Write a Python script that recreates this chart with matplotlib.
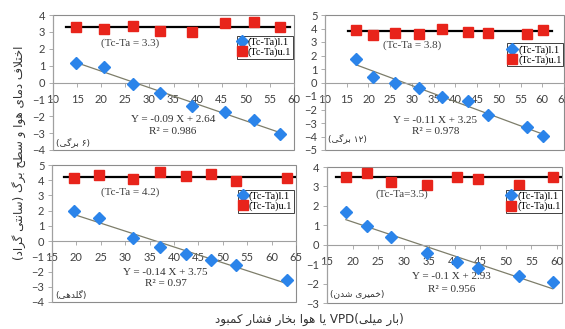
import re
import numpy as np
import matplotlib
matplotlib.use('Agg')
import matplotlib.pyplot as plt
from matplotlib.patches import Rectangle

# ---- data ----
# 6 leaves
vpd_6 = [14.8, 20.6, 26.5, 32.3, 38.8, 45.7, 51.6, 57.1]
low_6 = [1.14, 0.90, -0.11, -0.64, -1.37, -1.77, -2.20, -3.07]
up_6 = [3.30, 3.17, 3.36, 3.07, 3.00, 3.50, 3.56, 3.30]
# 12 leaves
vpd_12 = [17.2, 21.1, 26.1, 31.7, 36.9, 42.8, 47.5, 56.4, 60.2]
low_12 = [1.72, 0.43, -0.01, -0.38, -1.05, -1.37, -2.43, -3.32, -3.96]
up_12 = [3.89, 3.52, 3.69, 3.57, 3.96, 3.76, 3.69, 3.57, 3.89]
# flowering
vpd_fl = [19.5, 24.7, 31.5, 37.1, 42.4, 47.5, 52.7, 63.1]
low_fl = [1.97, 1.53, 0.18, -0.37, -0.86, -1.25, -1.54, -2.57]
up_fl = [4.12, 4.34, 4.08, 4.52, 4.28, 4.39, 3.97, 4.12]
# dough stage
vpd_do = [18.7, 22.9, 27.5, 34.6, 40.4, 44.6, 52.6, 59.2]
low_do = [1.70, 0.96, 0.40, -0.41, -0.87, -1.18, -1.61, -1.94]
up_do = [3.47, 3.71, 3.21, 3.07, 3.47, 3.38, 3.07, 3.47]

tc_ta = [3.3, 3.8, 4.2, 3.5]
tc_ta_text = ['(Tc-Ta = 3.3)', '(Tc-Ta = 3.8)', '(Tc-Ta = 4.2)', '(Tc-Ta=3.5)']
eq_text = ['Y = -0.09 X + 2.64', 'Y = -0.11 X + 3.25', 'Y = -0.14 X + 3.75', 'Y = -0.1 X + 2.93']
r2_text = ['R² = 0.986', 'R² = 0.978', 'R² = 0.97', 'R² = 0.956']
stage_text = ['(۶ برگی)', '(۱۲ برگی)', '(گلدهی)', '(خمیری شدن)']
ylabel = 'اختلاف دمای هوا و سطح برگ (سانتی گراد)'
xlabel = 'کمبود فشار بخار هوا یا VPD(میلی بار)'

# ---- simple persian shaping (matplotlib has no arabic shaping / bidi) ----
FORMS = {
    'ا': '\uFE8D\uFE8E', 'د': '\uFEA9\uFEAA', 'ر': '\uFEAD\uFEAE', 'و': '\uFEED\uFEEE',
    '\uFEFB': '\uFEFB\uFEFC',
    'ب': '\uFE8F\uFE90\uFE91\uFE92', 'ت': '\uFE95\uFE96\uFE97\uFE98',
    'ح': '\uFEA1\uFEA2\uFEA3\uFEA4', 'خ': '\uFEA5\uFEA6\uFEA7\uFEA8',
    'س': '\uFEB1\uFEB2\uFEB3\uFEB4', 'ش': '\uFEB5\uFEB6\uFEB7\uFEB8',
    'ط': '\uFEC1\uFEC2\uFEC3\uFEC4', 'ف': '\uFED1\uFED2\uFED3\uFED4',
    'ل': '\uFEDD\uFEDE\uFEDF\uFEE0', 'م': '\uFEE1\uFEE2\uFEE3\uFEE4',
    'ن': '\uFEE5\uFEE6\uFEE7\uFEE8', 'ه': '\uFEE9\uFEEA\uFEEB\uFEEC',
    'ک': '\uFB8E\uFB8F\uFB90\uFB91', 'گ': '\uFB92\uFB93\uFB94\uFB95',
    'ی': '\uFBFC\uFBFD\uFBFE\uFBFF',
}


def shape(s):
    s = s.replace('لا', '\uFEFB')
    out = []
    for i, c in enumerate(s):
        if c not in FORMS:
            out.append(c)
            continue
        f = FORMS[c]
        prev = s[i - 1] if i > 0 else ''
        nxt = s[i + 1] if i + 1 < len(s) else ''
        jp = prev in FORMS and len(FORMS[prev]) == 4
        jn = len(f) == 4 and nxt in FORMS
        out.append(f[jp + 2 * jn] if len(f) == 4 else f[jp])
    return ''.join(out)


def rtl(s):
    t = shape(s)[::-1].translate(str.maketrans('()', ')('))
    return re.sub(r'[0-9A-Za-z۰-۹.]+', lambda m: m.group()[::-1], t)


def words_ltr(s):
    # the x caption in the source keeps its words left to right
    return re.sub(r'[\u0600-\u06FF\uFB50-\uFEFF]+', lambda m: m.group()[::-1], shape(s))


# ---- figure ----
W, H = 565, 329
fig = plt.figure(figsize=(W / 100, H / 100), dpi=100)

# panel boxes in pixels: left, right, top, bottom
boxes = [(53, 294, 15, 150), (325, 564, 15, 150), (52, 296, 165, 302), (327, 562, 167, 303)]
xlims = [(10, 60), (10, 65), (15, 65), (15, 61)]
xtick_rng = [(10, 60), (10, 65), (15, 65), (15, 60)]
ylims = [(-4, 4), (-5, 5), (-4, 5), (-3, 4)]
tc_pos = [(26.0, 2.34), (30.1, 2.78), (31.0, 3.24), (29.6, 2.59)]
eq_pos = [(34.9, -2.22), (35.4, -2.78), (38.3, -2.06), (39.4, -1.65)]
r2_dy = [0.71, 0.86, 0.72, 0.63]
stage_y = [0.06, 0.09, 0.05, 0.07]
leg_anchor = [(0.995, 0.845), (0.996, 0.79), (0.99, 0.818), (1.0, 0.83)]

panels = [(vpd_6, low_6, up_6), (vpd_12, low_12, up_12),
          (vpd_fl, low_fl, up_fl), (vpd_do, low_do, up_do)]

blue = '#2b84ea'
red = '#e8241b'
serif = 'Liberation Serif'

for k, (xs, lo, up) in enumerate(panels):
    l, r, t, b = boxes[k]
    ax = fig.add_axes([l / W, 1 - b / H, (r - l) / W, (b - t) / H])
    xs = np.array(xs)
    lo = np.array(lo)

    # mean line of the upper limit
    ax.plot([max(xs.min() - 2, xlims[k][0]), min(xs.max() + 2, xlims[k][1])],
            [tc_ta[k], tc_ta[k]], color='black', lw=1.6, zorder=2)
    # linear trend of lower limit
    p = np.polyfit(xs, lo, 1)
    ax.plot([xs.min(), xs.max()], np.polyval(p, [xs.min(), xs.max()]),
            color='#7d7d6a', lw=0.9, zorder=2)

    ax.plot(xs, lo, 'D', color=blue, ms=6.3, mec=blue, label='(Tc-Ta)l.1', zorder=3)
    ax.plot(xs, up, 's', color=red, ms=7.5, mec=red, label='(Tc-Ta)u.1', zorder=3)

    ax.set_xlim(*xlims[k])
    ax.set_ylim(*ylims[k])
    ax.set_xticks(np.arange(xtick_rng[k][0], xtick_rng[k][1] + 1, 5))
    ax.set_yticks(np.arange(ylims[k][0], ylims[k][1] + 1, 1))

    for s in ['top', 'right']:
        ax.spines[s].set_visible(False)
    ax.spines['bottom'].set_position(('data', 0))
    ax.spines['bottom'].set_color('#a0a0a0')
    ax.spines['left'].set_color('#a0a0a0')
    ax.spines['bottom'].set_linewidth(0.8)
    ax.spines['left'].set_linewidth(0.8)
    ax.add_patch(Rectangle((0, 0), 1, 1, transform=ax.transAxes, fill=False,
                           ec='#8c8c8c', lw=0.8, clip_on=False, zorder=1))
    ax.tick_params(axis='x', direction='out', length=3, width=0.6, color='#a0a0a0',
                   pad=5, labelsize=8, labelcolor='#404040')
    ax.tick_params(axis='y', direction='out', length=3, width=0.6, color='#a0a0a0',
                   pad=2.5, labelsize=8, labelcolor='#404040')
    for lab in ax.get_xticklabels() + ax.get_yticklabels():
        lab.set_fontfamily('Lato')

    ax.text(*tc_pos[k], tc_ta_text[k], ha='center', va='center',
            family=serif, fontsize=8, color='#404040')
    ax.text(*eq_pos[k], eq_text[k], ha='center', va='center',
            family=serif, fontsize=8, color='#333333')
    ax.text(eq_pos[k][0], eq_pos[k][1] - r2_dy[k], r2_text[k], ha='center', va='center',
            family=serif, fontsize=8, color='#333333')
    ax.text(0.012, stage_y[k], rtl(stage_text[k]), transform=ax.transAxes,
            ha='left', va='center', family='DejaVu Sans', fontsize=6.5, color='#333333')

    leg = ax.legend(loc='upper right', bbox_to_anchor=leg_anchor[k],
                    prop={'family': serif, 'size': 7.5}, handlelength=0.7,
                    handletextpad=0.2, borderpad=0.15, labelspacing=0.05,
                    borderaxespad=0, fancybox=False, framealpha=1,
                    edgecolor='#404040', markerscale=0.9)
    leg.get_frame().set_linewidth(0.7)

fig.text(20 / W, 1 - 153 / H, rtl(ylabel), rotation=90, ha='center', va='center',
         family='DejaVu Sans', fontsize=8.6, color='#333333')
fig.text(309 / W, 1 - 319 / H, words_ltr(xlabel), ha='center', va='center',
         family='DejaVu Sans', fontsize=8.6, color='#333333')

fig.savefig('out.png', dpi=100)
